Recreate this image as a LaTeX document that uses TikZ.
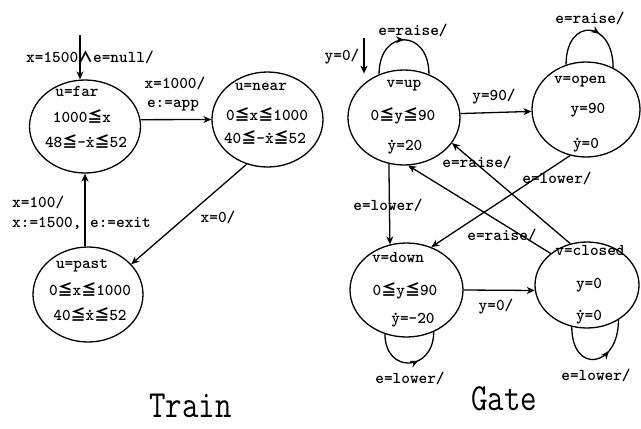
\documentclass[tikz,border=0pt]{standalone}
\usepackage{fontspec}
\newfontfamily\cjkfont{Noto Sans CJK JP}
\usetikzlibrary{shapes.geometric,arrows.meta,decorations.markings}
% symbols taken from the CJK font, with a trimmed box so lines keep their spacing
\newcommand\leqsym{\raisebox{0pt}[0.6em][0pt]{\cjkfont\fontsize{15}{15}\selectfont ≦}}
\newcommand\andsym{\raisebox{0pt}[0.6em][0pt]{\cjkfont\fontsize{15}{15}\selectfont ∧}}
% time derivative: a dot centred over a monospaced letter
\newcommand\dotv[1]{\makebox[0pt][l]{\raisebox{0.45em}[0.6em][0pt]{.}}#1}

\begin{document}
\begin{tikzpicture}[x=1pt,y=-1pt,
  every node/.style={font=\ttfamily\bfseries\fontsize{16.5}{16.5}\selectfont},
  stt/.style={draw, ellipse, line width=1.3pt, inner sep=0pt},
  txt/.style={anchor=base, inner sep=0pt},
  title/.style={anchor=base, inner sep=0pt, font=\ttfamily\fontsize{32}{32}\selectfont},
  tip/.style={-{Stealth[length=8pt,width=7pt,inset=2.5pt]}},
  trans/.style={draw, line width=1.3pt, tip},
  selfloop/.style={draw, line width=1.3pt, postaction={decorate},
    decoration={markings, mark=at position #1 with {\arrow{Stealth[length=8pt,width=7pt,inset=2.5pt]}}}},
  selfloop/.default=0.5]

\fill[white] (0,0) rectangle (641,429);
\useasboundingbox (0,0) rectangle (641,429);

% ---------------- Train ----------------
\node[stt, minimum width=111pt, minimum height=93pt] (far)  at (85,126.5) {};
\node[stt, minimum width=111pt, minimum height=95pt] (near) at (267.5,119.5) {};
\node[stt, minimum width=110pt, minimum height=95pt] (past) at (88,294.5) {};

\node[txt] (farA) at (77,96)  {u=far};
\node[txt] (farB) at (82,122) {1000\leqsym x};
\node[txt] (farC) at (86,147) {48\leqsym-\dotv{x}\leqsym52};

\node[txt] (nearA) at (261,90)  {u=near};
\node[txt] (nearB) at (267,120) {0\leqsym x\leqsym1000};
\node[txt] (nearC) at (265,143) {40\leqsym-\dotv{x}\leqsym52};

\node[txt] (pastA) at (82,268) {u=past};
\node[txt] (pastB) at (90,295) {0\leqsym x\leqsym1000};
\node[txt] (pastC) at (90,320) {40\leqsym\dotv{x}\leqsym52};

\coordinate (tinit) at (80,35);
\draw[trans] (tinit) -- (tinit |- far.north);
\node[txt] (lInit) at (90,62) {x=1500\andsym e=null/};

\draw[trans] (far.7) -- (near.west);
\node[txt] (lApp1) at (175,88)  {x=1000/};
\node[txt] (lApp2) at (173,107) {e:=app};

\draw[trans] (near.245) -- (past.35);
\node[txt] (lNear) at (218,222) {x=0/};

\draw[trans] (past.north -| far.south) -- (far.south);
\node[txt, anchor=base west] (lExit1) at (12,207) {x=100/};
\node[txt, anchor=base west] (lExit2) at (12,227) {x:=1500,~e:=exit};

\node[title] (tTrain) at (190.5,417) {\scalebox{1}[1.2]{Train}};

% ---------------- Gate ----------------
\node[stt, minimum width=112pt, minimum height=95pt] (up)     at (404,117.5) {};
\node[stt, minimum width=108pt, minimum height=95pt] (open)   at (586,109.5) {};
\node[stt, minimum width=113pt, minimum height=94pt] (down)   at (406.5,290) {};
\node[stt, minimum width=104pt, minimum height=86pt] (closed) at (587,285) {};

\node[txt] (upA) at (404,87)  {v=up};
\node[txt] (upB) at (403,120) {0\leqsym y\leqsym90};
\node[txt] (upC) at (405,150) {\dotv{y}=20};

\node[txt] (openA) at (580,83)  {v=open};
\node[txt] (openB) at (588,113) {y=90};
\node[txt] (openC) at (586,148) {\dotv{y}=0};

\node[txt] (downA) at (398,262) {v=down};
\node[txt] (downB) at (405,295) {0\leqsym y\leqsym90};
\node[txt] (downC) at (413,323) {\dotv{y}=-20};

\node[txt] (closedA) at (590,255) {v=closed};
\node[txt] (closedB) at (589,288) {y=0};
\node[txt] (closedC) at (589,320) {\dotv{y}=0};

\coordinate (ginit) at (364,38);
\draw[trans] (ginit) -- (ginit |- up.118);
\node[txt] (lGinit) at (342,60) {y=0/};

% self loops
\draw[selfloop=0.5] (up.120) .. controls +(0,-46) and +(0,-46) .. (up.60);
\node[txt] (lUpLoop) at (413,35) {e=raise/};

\draw[selfloop=0.6] (open.114) .. controls +(0,-48) and +(0,-48) .. (open.57);
\node[txt] (lOpenLoop) at (590,23) {e=raise/};

\draw[selfloop=0.6] (down.244) .. controls +(0,40) and +(0,40) .. (down.303);
\node[txt] (lDownLoop) at (410,383) {e=lower/};

\draw[selfloop=0.65] (closed.250) .. controls +(0,48) and +(0,48) .. (closed.312);
\node[txt] (lClosedLoop) at (596,380) {e=lower/};

% transitions between gate states
\draw[trans] (up.4) -- (open.182);
\node[txt] (lUpOpen) at (494,100) {y=90/};

\draw[trans] (up.252) -- (down.110);
\node[txt] (lUpDown) at (388,210) {e=lower/};

\draw[trans] (open.251) -- (down.60);
\node[txt] (lOpenDown) at (557,183) {e=lower/};

\draw[trans] (closed.112) -- (up.332);
\node[txt] (lClosedUpA) at (477,167) {e=raise/};

\draw[trans] (closed.139) -- (up.275);
\node[txt] (lClosedUpB) at (502,240) {e=raise/};

\draw[trans] (down.east) -- (closed.186);
\node[txt] (lDownClosed) at (496,310) {y=0/};

\node[title] (tGate) at (504,410) {\scalebox{1}[1.2]{Gate}};
\end{tikzpicture}
\end{document}
